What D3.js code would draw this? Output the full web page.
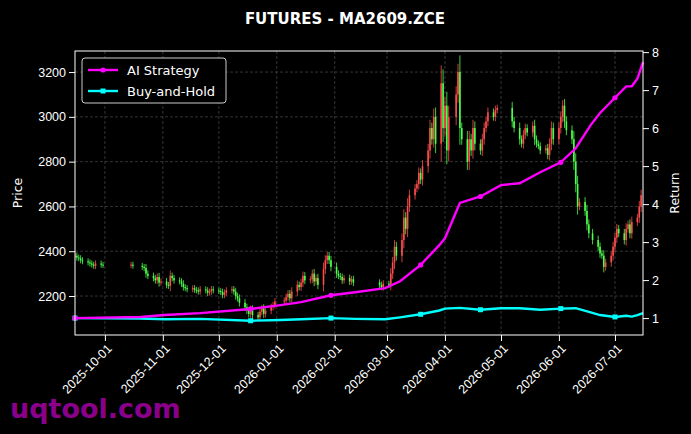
<!DOCTYPE html>
<html><head><meta charset="utf-8">
<script src="https://cdn.jsdelivr.net/npm/d3@7"></script>
<style>body{margin:0;background:#000;}svg{display:block;font-family:"DejaVu Sans",sans-serif;}</style>
</head><body><svg id="chart" width="691" height="434"></svg>
<script>
// weekly close prices, Mon..Fri, null = no trading
var weekStarts = ["2025-09-15","2025-09-22","2025-09-29","2025-10-06","2025-10-13","2025-10-20","2025-10-27",
  "2025-11-03","2025-11-10","2025-11-17","2025-11-24","2025-12-01","2025-12-08","2025-12-15","2025-12-22",
  "2025-12-29","2026-01-05","2026-01-12","2026-01-19","2026-01-26","2026-02-02","2026-02-09","2026-02-16",
  "2026-02-23","2026-03-02","2026-03-09","2026-03-16","2026-03-23","2026-03-30","2026-04-06","2026-04-13",
  "2026-04-20","2026-04-27","2026-05-04","2026-05-11","2026-05-18","2026-05-25","2026-06-01","2026-06-08",
  "2026-06-15","2026-06-22","2026-06-29","2026-07-06","2026-07-13"];
var weekCloses = [
  [2380,2372,2368,2360,2355],[2350,2345,2340,2335,2345],[2340,2338,null,null,null],[null,null,null,null,null],
  [null,null,2340,2335,null],[null,2330,2325,2300,2290],[2280,2270,2285,2260,2265],
  [2250,2245,2290,2280,2270],[2265,2255,2240,2235,2230],[2235,2228,2225,2220,2230],[2225,2215,2220,2230,2225],
  [2222,2218,2205,2215,2225],[2230,2220,2200,2190,2170],[2150,2135,2120,2140,2115],[2105,2130,2145,2120,2135],
  [2150,2160,2175,null,null],[2180,2195,2210,2190,2220],[2250,2240,2260,2290,2270],[2275,2300,2265,2280,2250],
  [2320,2360,2380,2360,2330],[2300,2290,2285,2270,2280],[2265,2275,2260,null,null],[null,null,null,null,null],
  [null,null,2250,2240,2255],[2250,2300,2350,2420,2380],[2450,2550,2500,2600,2650],[2680,2700,2750,2720,2780],
  [2850,2950,2900,3000,2880],[3150,2950,3050,2850,3000],[null,3100,3200,2950,2900],[2800,2900,2850,2950,2880],
  [2850,2900,2950,2980,3020],[3000,3030,3040,null,null],[null,null,null,2980,2950],[2900,2880,2920,2950,2930],
  [2960,2900,2880,2870,2850],[2860,2830,2880,2950,2900],[2950,3000,3050,2980,2940],[2900,2800,2700,2600,2620],
  [2580,2520,2480,null,2450],[2420,2390,2380,2330,2350],[2380,2420,2460,2500,2480],[2450,2500,2520,2480,2530],
  [2550,2600,2650,null,null]];
// return curves (date, value)
var retDates = ["2025-09-15","2025-10-20","2025-11-02","2025-11-21","2025-12-18","2026-01-03","2026-01-14",
  "2026-01-30","2026-02-12","2026-02-28","2026-03-08","2026-03-19","2026-03-29","2026-04-01","2026-04-09",
  "2026-04-20","2026-05-01","2026-05-11","2026-05-22","2026-06-02","2026-06-10","2026-06-18","2026-06-23",
  "2026-07-01","2026-07-07","2026-07-10","2026-07-13","2026-07-16"];
var aiReturn = [1.0,1.03,1.08,1.13,1.24,1.34,1.42,1.6,1.68,1.79,1.97,2.4,2.92,3.1,4.03,4.2,4.5,4.55,4.84,5.1,5.47,6.08,6.4,6.8,7.1,7.1,7.3,7.74];
var bhReturn = [1.0,0.99,0.97,0.98,0.93,0.95,0.97,1.0,0.98,0.97,1.02,1.1,1.2,1.25,1.27,1.22,1.26,1.26,1.22,1.25,1.26,1.15,1.08,1.03,1.06,1.04,1.08,1.13];
var markerIdx = [0,4,7,11,15,19,23];
var priceTicks = [2200,2400,2600,2800,3000,3200];
var retTicks = [1,2,3,4,5,6,7,8];
var monthTicks = ["2025-10-01","2025-11-01","2025-12-01","2026-01-01","2026-02-01","2026-03-01","2026-04-01","2026-05-01","2026-06-01","2026-07-01"];

var parse = d3.timeParse("%Y-%m-%d");
var candles = [];
var prev = null;
weekStarts.forEach(function (w, i) {
    var d0 = parse(w);
    weekCloses[i].forEach(function (c, k) {
        if (c == null) return;
        var o = prev == null ? c : prev;
        candles.push({date: d3.timeDay.offset(d0, k), open: o, close: c});
        prev = c;
    });
});

var svg = d3.select("#chart");
var pL = 75, pR = 643, pT = 51, pB = 335;
var x = d3.scaleTime().domain([parse("2025-09-15"), parse("2026-07-16")]).range([pL, pR]);
var yP = d3.scaleLinear().domain([2026, 3294]).range([pB, pT]);
var yR = d3.scaleLinear().domain([0.555, 8.03]).range([pB, pT]);

svg.append("rect").attr("width", 691).attr("height", 434).attr("fill", "#000");
svg.append("clipPath").attr("id", "clip").append("rect").attr("x", pL).attr("y", pT).attr("width", pR - pL).attr("height", pB - pT);

// grid
var grid = svg.append("g").attr("stroke", "#555").attr("stroke-dasharray", "3,2").attr("stroke-width", 0.6);
monthTicks.forEach(function (t) {
    grid.append("line").attr("x1", x(parse(t))).attr("x2", x(parse(t))).attr("y1", pT).attr("y2", pB);
});
priceTicks.forEach(function (t) {
    grid.append("line").attr("x1", pL).attr("x2", pR).attr("y1", yP(t)).attr("y2", yP(t));
});

// candles
var cg = svg.append("g").attr("clip-path", "url(#clip)");
candles.forEach(function (d) {
    var up = d.close >= d.open;
    var col = up ? "#ff4d4d" : "#4dff4d";
    var ext = 12 + 0.25 * Math.abs(d.close - d.open);
    var hi = Math.max(d.open, d.close) + ext, lo = Math.min(d.open, d.close) - ext;
    var cx = x(d.date);
    cg.append("line").attr("x1", cx).attr("x2", cx).attr("y1", yP(hi)).attr("y2", yP(lo)).attr("stroke", col).attr("stroke-width", 0.8);
    cg.append("rect").attr("x", cx - 0.8).attr("width", 1.6)
        .attr("y", yP(Math.max(d.open, d.close))).attr("height", Math.max(1, Math.abs(yP(d.open) - yP(d.close))))
        .attr("fill", col);
});

// return lines
function drawLine(vals, color, marker) {
    var pts = retDates.map(function (t, i) { return [x(parse(t)), yR(vals[i])]; });
    svg.append("path").attr("d", d3.line()(pts)).attr("fill", "none").attr("stroke", color).attr("stroke-width", 2.4);
    markerIdx.forEach(function (i) {
        if (marker == "circle") svg.append("circle").attr("cx", pts[i][0]).attr("cy", pts[i][1]).attr("r", 2.6).attr("fill", color);
        else svg.append("rect").attr("x", pts[i][0] - 2.5).attr("y", pts[i][1] - 2.5).attr("width", 5).attr("height", 5).attr("fill", color);
    });
}
drawLine(bhReturn, "#00ffff", "square");
drawLine(aiReturn, "#ff00ff", "circle");

// frame
svg.append("rect").attr("x", pL).attr("y", pT).attr("width", pR - pL).attr("height", pB - pT)
    .attr("fill", "none").attr("stroke", "#fff").attr("stroke-width", 1);

// axes
var ax = svg.append("g").attr("transform", "translate(0," + pB + ")")
    .call(d3.axisBottom(x).tickValues(monthTicks.map(parse)).tickFormat(d3.timeFormat("%Y-%m-%d")).tickSizeOuter(0));
ax.selectAll("text").attr("transform", "rotate(-45)").attr("text-anchor", "end").attr("dx", "-0.4em").attr("dy", "0.5em");
var ayl = svg.append("g").attr("transform", "translate(" + pL + ",0)").call(d3.axisLeft(yP).tickValues(priceTicks).tickFormat(d3.format("d")).tickSizeOuter(0));
var ayr = svg.append("g").attr("transform", "translate(" + pR + ",0)").call(d3.axisRight(yR).tickValues(retTicks).tickSizeOuter(0));
[ax, ayl, ayr].forEach(function (g) {
    g.select(".domain").remove();
    g.selectAll("line").attr("stroke", "#fff");
    g.selectAll("text").attr("fill", "#fff").attr("font-size", 12.5);
});

svg.append("text").attr("x", 345).attr("y", 24).attr("text-anchor", "middle").attr("fill", "#fff")
    .attr("font-size", 15).attr("font-weight", "bold").text("FUTURES - MA2609.ZCE");
svg.append("text").attr("transform", "translate(22,193) rotate(-90)").attr("text-anchor", "middle").attr("fill", "#fff").attr("font-size", 12.5).text("Price");
svg.append("text").attr("transform", "translate(679,193) rotate(-90)").attr("text-anchor", "middle").attr("fill", "#fff").attr("font-size", 12.5).text("Return");

// legend
var lg = svg.append("g");
lg.append("rect").attr("x", 82).attr("y", 58).attr("width", 144).attr("height", 45).attr("rx", 3)
    .attr("fill", "#000").attr("stroke", "#ccc").attr("stroke-width", 1);
[["AI Strategy", "#ff00ff", "circle"], ["Buy-and-Hold", "#00ffff", "square"]].forEach(function (e, i) {
    var yy = 70 + i * 21;
    lg.append("line").attr("x1", 88).attr("x2", 118).attr("y1", yy).attr("y2", yy).attr("stroke", e[1]).attr("stroke-width", 2.4);
    if (e[2] == "circle") lg.append("circle").attr("cx", 103).attr("cy", yy).attr("r", 2.6).attr("fill", e[1]);
    else lg.append("rect").attr("x", 100.5).attr("y", yy - 2.5).attr("width", 5).attr("height", 5).attr("fill", e[1]);
    lg.append("text").attr("x", 127).attr("y", yy + 4.5).attr("fill", "#fff").attr("font-size", 13).text(e[0]);
});

svg.append("text").attr("x", 10).attr("y", 418).attr("fill", "#8b008b").attr("font-size", 27)
    .attr("font-weight", "bold").text("uqtool.com");
</script></body></html>
